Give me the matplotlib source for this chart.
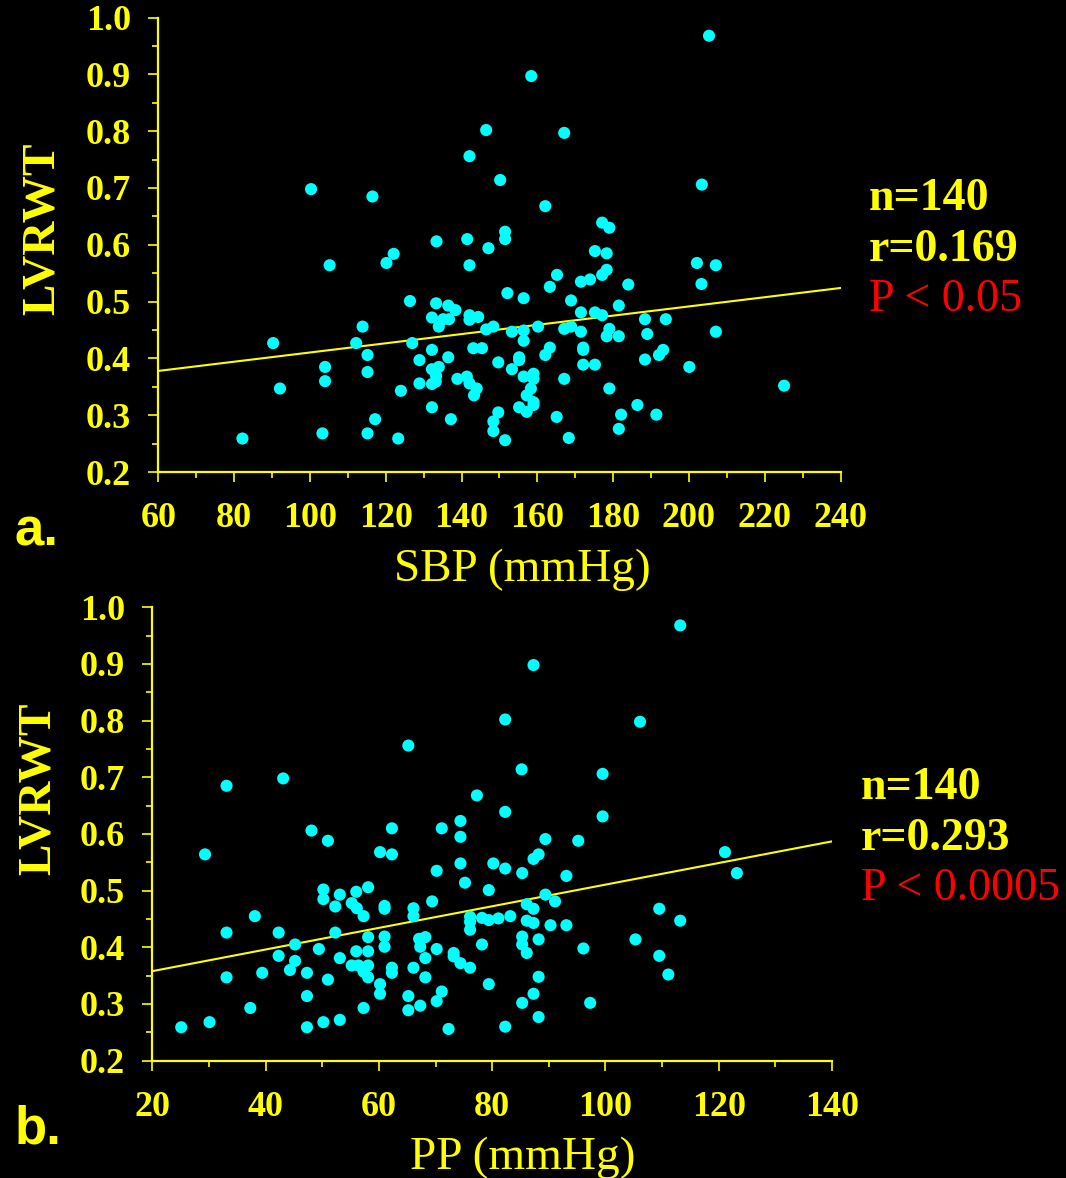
import matplotlib
matplotlib.use('Agg')
import matplotlib.pyplot as plt
from matplotlib.ticker import MultipleLocator
import numpy as np

# systolic blood pressure (mmHg) vs relative wall thickness
sbp = [205.3, 158.4, 146.5, 167.1, 142.1, 150.2, 100.3, 116.5, 203.4, 162.1,
       177.1, 179.0, 151.5, 151.5, 133.4, 141.5, 147.1, 122.1, 120.2, 105.2,
       142.1, 175.2, 178.3, 178.3, 177.1, 173.9, 171.5, 165.2, 163.3, 202.1,
       207.1, 203.3, 184.0, 152.1, 156.4, 168.9, 181.5, 126.4, 133.3, 136.5,
       138.4, 132.2, 134.0, 135.2, 136.7, 142.1, 142.1, 144.4, 146.5, 148.4,
       171.5, 175.2, 177.1, 188.4, 193.9, 113.9, 153.3, 156.4, 156.4, 160.2,
       167.1, 168.9, 171.5, 179.0, 178.3, 181.5, 189.0, 207.1, 90.3, 112.2,
       115.2, 127.0, 132.2, 143.1, 145.4, 128.9, 136.5, 149.7, 163.3, 162.1,
       155.2, 155.2, 153.3, 172.1, 172.1, 172.1, 175.2, 193.2, 192.1, 188.4,
       200.1, 104.0, 115.2, 132.2, 134.0, 133.3, 133.2, 132.2, 128.9, 138.9,
       141.4, 142.1, 144.0, 143.3, 104.0, 92.1, 124.0, 156.4, 159.0, 159.0,
       167.1, 158.3, 157.2, 159.0, 159.0, 155.2, 157.2, 179.0, 225.1, 186.4,
       191.4, 182.1, 181.5, 165.1, 168.3, 132.2, 117.2, 137.2, 149.7, 148.4,
       148.4, 151.5, 82.2, 103.3, 115.2, 123.3]
lvrwt_a = [0.968, 0.897, 0.802, 0.797, 0.756, 0.714, 0.698, 0.685, 0.706, 0.668,
           0.639, 0.630, 0.623, 0.610, 0.606, 0.610, 0.594, 0.584, 0.568, 0.564,
           0.564, 0.589, 0.585, 0.556, 0.547, 0.539, 0.535, 0.547, 0.526, 0.568,
           0.564, 0.531, 0.530, 0.515, 0.506, 0.502, 0.493, 0.501, 0.497, 0.493,
           0.485, 0.472, 0.456, 0.469, 0.469, 0.476, 0.468, 0.473, 0.451, 0.456,
           0.481, 0.481, 0.476, 0.469, 0.469, 0.456, 0.447, 0.449, 0.431, 0.456,
           0.452, 0.456, 0.447, 0.452, 0.439, 0.439, 0.443, 0.447, 0.427, 0.427,
           0.406, 0.427, 0.415, 0.418, 0.418, 0.397, 0.402, 0.393, 0.419, 0.406,
           0.402, 0.397, 0.381, 0.419, 0.415, 0.389, 0.389, 0.415, 0.406, 0.398,
           0.385, 0.385, 0.376, 0.381, 0.385, 0.369, 0.359, 0.355, 0.356, 0.364,
           0.368, 0.356, 0.347, 0.335, 0.360, 0.347, 0.343, 0.368, 0.373, 0.364,
           0.364, 0.347, 0.335, 0.323, 0.318, 0.314, 0.306, 0.347, 0.352, 0.318,
           0.301, 0.301, 0.276, 0.297, 0.260, 0.314, 0.293, 0.293, 0.305, 0.289,
           0.272, 0.256, 0.259, 0.268, 0.268, 0.259]

# pulse pressure (mmHg) vs relative wall thickness
pp = [113.2, 87.3, 82.3, 106.1, 65.2, 85.2, 99.5, 33.1, 43.1, 77.3,
      82.3, 99.5, 48.1, 51.0, 62.3, 71.1, 74.4, 74.4, 89.4, 95.2,
      29.3, 60.2, 62.3, 70.2, 74.4, 75.2, 80.2, 79.4, 88.2, 87.3,
      82.3, 85.3, 93.1, 121.1, 123.2, 89.4, 91.1, 86.1, 87.3, 109.5,
      113.2, 38.1, 33.1, 42.3, 45.2, 50.2, 50.2, 52.3, 53.1, 56.0,
      58.1, 55.2, 56.1, 57.3, 61.0, 61.0, 66.1, 66.1, 69.4, 76.1,
      76.1, 76.1, 78.2, 79.4, 81.1, 83.2, 86.1, 87.3, 90.3, 93.1,
      52.3, 58.1, 61.0, 61.0, 67.1, 68.2, 67.3, 70.2, 78.2, 85.3,
      85.3, 88.2, 86.1, 105.3, 96.1, 109.5, 111.1, 49.4, 42.3, 45.2,
      44.3, 56.0, 58.1, 53.1, 55.2, 56.4, 58.1, 57.3, 58.1, 62.3,
      62.3, 66.1, 68.2, 68.2, 73.2, 73.2, 74.4, 76.1, 33.1, 39.4,
      47.3, 51.0, 60.2, 60.2, 47.3, 65.2, 71.1, 70.2, 79.4, 88.2,
      87.3, 85.3, 97.3, 88.2, 82.3, 37.3, 57.3, 65.2, 67.3, 25.1,
      30.1, 47.3, 50.2, 53.1, 72.3]
lvrwt_b = [0.968, 0.898, 0.802, 0.798, 0.756, 0.714, 0.706, 0.685, 0.698, 0.668,
           0.639, 0.631, 0.606, 0.588, 0.610, 0.610, 0.623, 0.595, 0.591, 0.588,
           0.564, 0.568, 0.564, 0.535, 0.548, 0.514, 0.548, 0.501, 0.564, 0.556,
           0.539, 0.531, 0.526, 0.568, 0.531, 0.493, 0.481, 0.476, 0.468, 0.468,
           0.447, 0.455, 0.426, 0.426, 0.405, 0.502, 0.485, 0.472, 0.493, 0.498,
           0.506, 0.478, 0.469, 0.455, 0.473, 0.468, 0.469, 0.455, 0.481, 0.454,
           0.445, 0.431, 0.452, 0.448, 0.451, 0.455, 0.447, 0.443, 0.439, 0.439,
           0.426, 0.418, 0.419, 0.401, 0.415, 0.418, 0.401, 0.397, 0.405, 0.419,
           0.405, 0.414, 0.390, 0.414, 0.398, 0.385, 0.352, 0.397, 0.385, 0.376,
           0.360, 0.393, 0.393, 0.381, 0.368, 0.368, 0.368, 0.357, 0.347, 0.364,
           0.355, 0.364, 0.381, 0.347, 0.390, 0.384, 0.372, 0.364, 0.347, 0.355,
           0.355, 0.343, 0.335, 0.318, 0.314, 0.314, 0.322, 0.305, 0.335, 0.348,
           0.318, 0.302, 0.302, 0.277, 0.260, 0.293, 0.293, 0.289, 0.297, 0.259,
           0.268, 0.259, 0.268, 0.272, 0.256]

# regression lines (intercept, slope)
fit_a = (0.3293, 0.000811)
fit_b = (0.3198, 0.001908)

stats_a = ['n=140', 'r=0.169', 'P < 0.05']
stats_b = ['n=140', 'r=0.293', 'P < 0.0005']

YELLOW = '#ffff00'
CYAN = '#00ffff'
RED = '#ff0000'
SERIF = 'Liberation Serif'


def panel(ax, x, y, fit, xlim, xmajor, xlabel, stats, label_x, ylabel_x, ylabel_y):
    ax.set_facecolor('black')
    ax.scatter(x, y, s=76, color=CYAN, edgecolors='none', zorder=3, clip_on=False)

    xs = np.array(xlim, dtype=float)
    ax.plot(xs, fit[0] + fit[1] * xs, color=YELLOW, linewidth=1.5, zorder=2)

    ax.set_xlim(xlim)
    ax.set_ylim(0.2, 1.0)
    ax.xaxis.set_major_locator(MultipleLocator(xmajor))
    ax.xaxis.set_minor_locator(MultipleLocator(xmajor / 2))
    ax.yaxis.set_major_locator(MultipleLocator(0.1))
    ax.yaxis.set_minor_locator(MultipleLocator(0.05))
    ax.set_yticklabels(['%.1f' % v for v in ax.get_yticks()])

    for side in ('top', 'right'):
        ax.spines[side].set_visible(False)
    for side in ('left', 'bottom'):
        ax.spines[side].set_color(YELLOW)
        ax.spines[side].set_linewidth(1.6)

    ax.tick_params(which='major', length=7.5, width=1.2, color=YELLOW)
    ax.tick_params(which='minor', length=4, width=1.2, color=YELLOW)
    ax.tick_params(axis='x', which='major', pad=14)
    ax.tick_params(axis='y', which='major', pad=12)
    for lab in ax.get_xticklabels() + ax.get_yticklabels():
        lab.set_fontfamily(SERIF)
        lab.set_fontweight('bold')
        lab.set_fontsize(26)
        lab.set_color(YELLOW)

    ax.set_xlabel(xlabel, fontfamily=SERIF, fontsize=34, color=YELLOW)
    ax.xaxis.set_label_coords(label_x, -0.168)
    ax.set_ylabel('LVRWT', fontfamily=SERIF, fontweight='bold', fontsize=34,
                  color=YELLOW, va='center')
    ax.yaxis.set_label_coords(ylabel_x, ylabel_y)

    # n, r and p value beside the plot
    for i, txt in enumerate(stats):
        color = RED if txt.startswith('P') else YELLOW
        weight = 'normal' if txt.startswith('P') else 'bold'
        ax.text(1.042, 0.5765 - i * 0.1115, txt, transform=ax.transAxes,
                fontfamily=SERIF, fontweight=weight, fontsize=33,
                color=color, ha='left', va='baseline')


fig = plt.figure(figsize=(10.66, 11.78), dpi=100, facecolor='black')
ax_a = fig.add_axes([0.1485, 0.5993, 0.6400, 0.3858])
ax_b = fig.add_axes([0.1429, 0.0996, 0.6376, 0.3849])

panel(ax_a, sbp, lvrwt_a, fit_a, (60, 240), 20, 'SBP (mmHg)', stats_a, 0.533, -0.170, 0.535)
panel(ax_b, pp, lvrwt_b, fit_b, (20, 140), 20, 'PP (mmHg)', stats_b, 0.545, -0.167, 0.600)

fig.text(0.014, 0.537, 'a.', fontfamily='Liberation Sans', fontweight='bold',
         fontsize=38, color=YELLOW, va='baseline')
fig.text(0.014, 0.029, 'b.', fontfamily='Liberation Sans', fontweight='bold',
         fontsize=38, color=YELLOW, va='baseline')

fig.savefig('out.png', dpi=100, facecolor='black')
